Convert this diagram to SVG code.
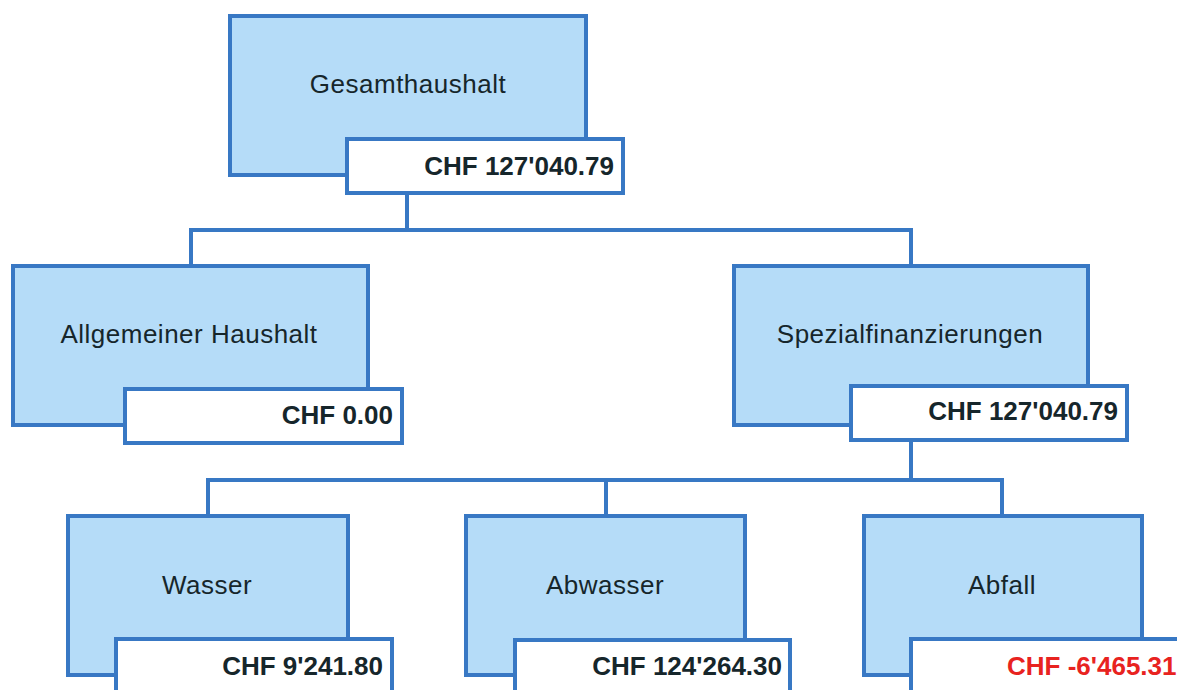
<svg xmlns="http://www.w3.org/2000/svg" width="1177" height="690" viewBox="0 0 1177 690">
<style>
.box{fill:#b5dcf8;stroke:#3878c4;stroke-width:4}
.val{fill:#ffffff;stroke:#3878c4;stroke-width:4}
.lbl{font-family:"Liberation Sans",Arial,sans-serif;font-size:26px;letter-spacing:0.5px;fill:#16262b;text-anchor:middle}
.num{font-family:"Liberation Sans",Arial,sans-serif;font-size:26px;font-weight:bold;fill:#16262b;text-anchor:end}
.neg{fill:#e8231f}
.conn{fill:none;stroke:#3878c4;stroke-width:4}
</style>
<rect width="1177" height="690" fill="#ffffff"/>
<g id="connectors">
<path class="conn" d="M407,193 V230 M191,265 V230 H911 V265"/>
<path class="conn" d="M911,440 V480 M208,515 V480 H1002 V515 M606,480 V515"/>
</g>
<g id="gesamthaushalt">
<rect class="box" x="230" y="16" width="356" height="159"/>
<text class="lbl" x="408" y="93">Gesamthaushalt</text>
<rect class="val" x="347" y="139" width="276" height="54"/>
<text class="num" x="614" y="175">CHF 127'040.79</text>
</g>
<g id="allgemeiner">
<rect class="box" x="13" y="266" width="355" height="159"/>
<text class="lbl" x="189" y="343">Allgemeiner Haushalt</text>
<rect class="val" x="125" y="389" width="277" height="54"/>
<text class="num" x="393" y="424">CHF 0.00</text>
</g>
<g id="spezial">
<rect class="box" x="734" y="266" width="354" height="159"/>
<text class="lbl" x="910" y="343">Spezialfinanzierungen</text>
<rect class="val" x="851" y="386" width="276" height="54"/>
<text class="num" x="1118" y="420">CHF 127'040.79</text>
</g>
<g id="wasser">
<rect class="box" x="68" y="516" width="280" height="159"/>
<text class="lbl" x="207" y="594">Wasser</text>
<rect class="val" x="116" y="639" width="276" height="60"/>
<text class="num" x="383" y="675">CHF 9'241.80</text>
</g>
<g id="abwasser">
<rect class="box" x="466" y="516" width="279" height="159"/>
<text class="lbl" x="605" y="594">Abwasser</text>
<rect class="val" x="515" y="640" width="275" height="60"/>
<text class="num" x="782" y="675">CHF 124'264.30</text>
</g>
<g id="abfall">
<rect class="box" x="864" y="516" width="278" height="159"/>
<text class="lbl" x="1002" y="594">Abfall</text>
<rect class="val" x="911" y="639" width="280" height="60"/>
<text class="num neg" x="1007" y="675" style="text-anchor:start">CHF -6'465.31</text>
</g>
</svg>
